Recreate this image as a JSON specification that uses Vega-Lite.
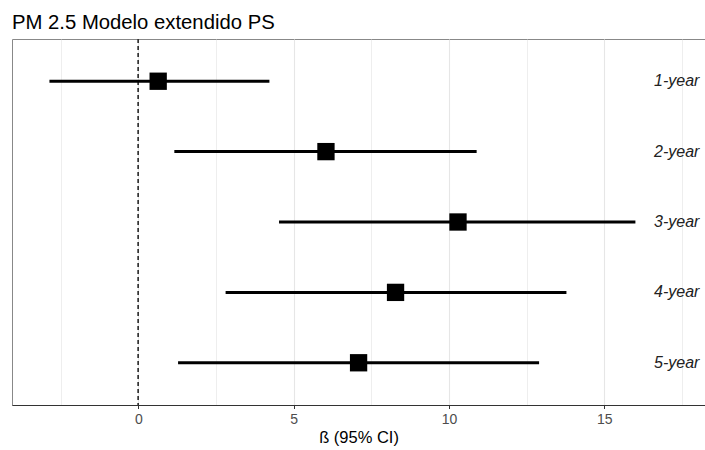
{
  "$schema": "https://vega.github.io/schema/vega-lite/v6.json",
  "width": 693,
  "height": 366,
  "autosize": {"type": "none"},
  "padding": {"left": 12, "top": 39, "right": 0, "bottom": 45},
  "title": {
    "text": "PM 2.5 Modelo extendido PS",
    "anchor": "start",
    "frame": "group",
    "baseline": "alphabetic",
    "offset": 12,
    "dy": 23,
    "fontSize": 20.3,
    "fontWeight": "normal",
    "color": "#000000",
    "font": "Liberation Sans"
  },
  "data": {
    "values": [
      {"period": "1-year", "beta": 0.64, "low": -2.86, "high": 4.22},
      {"period": "2-year", "beta": 6.04, "low": 1.16, "high": 10.89},
      {"period": "3-year", "beta": 10.29, "low": 4.53, "high": 16.0},
      {"period": "4-year", "beta": 8.28, "low": 2.81, "high": 13.78},
      {"period": "5-year", "beta": 7.09, "low": 1.28, "high": 12.9}
    ]
  },
  "encoding": {
    "y": {
      "field": "period",
      "type": "nominal",
      "sort": ["1-year", "2-year", "3-year", "4-year", "5-year"],
      "scale": {"type": "point", "padding": 0.6},
      "axis": null
    }
  },
  "layer": [
    {
      "mark": {"type": "rule", "strokeDash": [4, 3], "strokeWidth": 1, "color": "#333333"},
      "encoding": {
        "x": {"datum": 0, "type": "quantitative"},
        "y": null
      }
    },
    {
      "mark": {"type": "rule", "strokeWidth": 3, "color": "#000000"},
      "encoding": {
        "x": {
          "field": "low",
          "type": "quantitative",
          "scale": {"domain": [-4.065, 18.24], "nice": false, "zero": false},
          "axis": {
            "title": "ß (95% CI)",
            "values": [-2.5, 0, 2.5, 5, 7.5, 10, 12.5, 15, 17.5],
            "labelExpr": "datum.value % 5 === 0 ? datum.label : ''",
            "grid": true,
            "gridColor": "#e6e6e6",
            "gridWidth": {"condition": {"test": "datum.value % 5 === 0", "value": 1.1}, "value": 0.7},
            "tickOpacity": {"condition": {"test": "datum.value % 5 === 0", "value": 1}, "value": 0},
            "tickColor": "#333333",
            "tickSize": 3.5,
            "tickWidth": 1,
            "domainColor": "#333333",
            "domainWidth": 1,
            "labelColor": "#4d4d4d",
            "labelFontSize": 14,
            "labelPadding": 4,
            "labelFont": "Liberation Sans",
            "titleFont": "Liberation Sans",
            "titleFontSize": 16.5,
            "titleFontWeight": "normal",
            "titleColor": "#000000",
            "titlePadding": 3
          }
        },
        "x2": {"field": "high"}
      }
    },
    {
      "mark": {"type": "point", "shape": "square", "filled": true, "size": 300, "color": "#000000", "opacity": 1},
      "encoding": {
        "x": {"field": "beta", "type": "quantitative"}
      }
    },
    {
      "mark": {"type": "text", "align": "right", "baseline": "middle", "fontStyle": "italic", "fontSize": 16, "color": "#222222", "font": "Liberation Sans"},
      "encoding": {
        "x": {"datum": 18.06, "type": "quantitative"},
        "text": {"field": "period"}
      }
    }
  ],
  "config": {
    "font": "Liberation Sans",
    "view": {"stroke": "#888888", "strokeWidth": 1}
  }
}
